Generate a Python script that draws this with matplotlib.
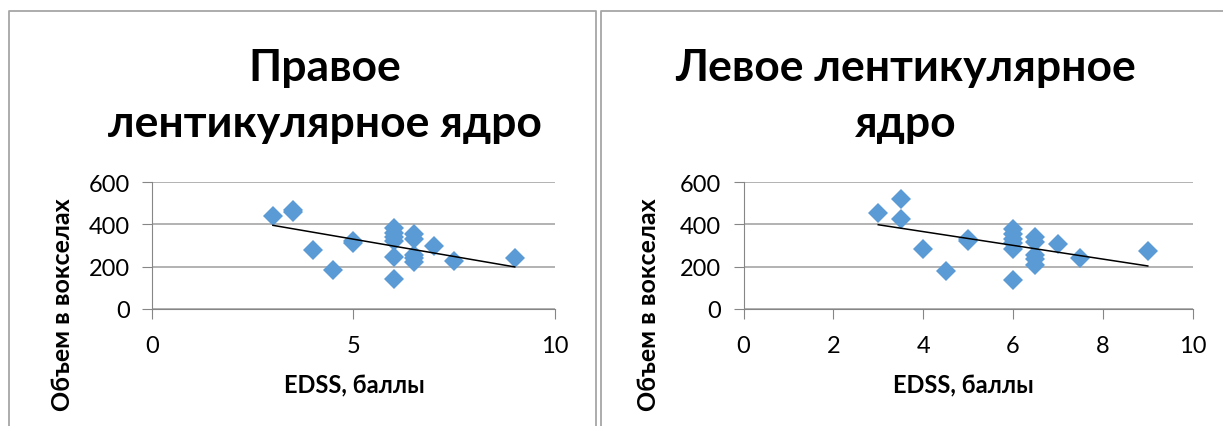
import numpy as np
import matplotlib
matplotlib.use("Agg")
import matplotlib.pyplot as plt
from matplotlib.lines import Line2D

plt.rcParams['font.family'] = ['Lato', 'DejaVu Sans']

# EDSS score vs volume (voxels), right lenticular nucleus
right_edss = [3, 3.5, 3.5, 4, 4.5, 5, 5, 6, 6, 6, 6, 6, 6, 6.5, 6.5, 6.5, 6.5, 6.5, 7, 7.5, 9]
right_vol = [440, 460, 468, 280, 185, 312, 320, 382, 360, 340, 320, 245, 142, 352, 330, 255, 240, 222, 298, 228, 240]

# left lenticular nucleus
left_edss = [3, 3.5, 3.5, 4, 4.5, 5, 5, 6, 6, 6, 6, 6, 6, 6.5, 6.5, 6.5, 6.5, 6.5, 7, 7.5, 9]
left_vol = [455, 522, 425, 283, 178, 322, 332, 378, 356, 332, 310, 285, 138, 340, 318, 255, 235, 210, 307, 240, 272]

titles = ["Правое\nлентикулярное ядро", "Левое лентикулярное\nядро"]
xlabel = "EDSS, баллы"
ylabel = "Объем в вокселах"

W, H = 1223, 427
fig = plt.figure(figsize=(W / 100, H / 100), dpi=100)

def px(x, y):
    return x / W, 1 - y / H

# chart frames
frame = "#a6a6a6"
for x0, x1 in [(9, 596), (601, 1240)]:
    xs = [px(x0, 0)[0], px(x0, 0)[0], px(x1, 0)[0], px(x1, 0)[0]]
    ys = [0, px(0, 12)[1], px(0, 12)[1], 0]
    fig.add_artist(Line2D(xs, ys, color=frame, lw=1.3))

blue = "#5b9bd5"
panels = [
    dict(x=right_edss, y=right_vol, title=titles[0], left=152, right=555,
         ticks=[0, 5, 10], tcx=325, ylx=63, xlx=354),
    dict(x=left_edss, y=left_vol, title=titles[1], left=743.5, right=1192.7,
         ticks=[0, 2, 4, 6, 8, 10], tcx=906, ylx=648, xlx=963),
]

for p in panels:
    l, b = px(p["left"], 310)
    w = (p["right"] - p["left"]) / W
    h = (310 - 183) / H
    ax = fig.add_axes([l, b, w, h])
    ax.plot(p["x"], p["y"], linestyle="none", marker="D", ms=10,
            color=blue, markeredgewidth=0, zorder=3)

    # linear trend line
    k, c = np.polyfit(p["x"], p["y"], 1)
    tx = np.array([min(p["x"]), max(p["x"])])
    ax.plot(tx, k * tx + c, color="black", lw=1.1, zorder=4)

    ax.set_xlim(0, 10)
    ax.set_ylim(0, 600)
    ax.set_xticks(p["ticks"])
    ax.set_yticks([0, 200, 400, 600])
    ax.grid(axis="y", color="#a6a6a6", lw=1.2)
    ax.set_axisbelow(True)
    for s in ["top", "right"]:
        ax.spines[s].set_visible(False)
    ax.spines["left"].set_color("#868686")
    ax.spines["bottom"].set_color("#868686")
    ax.tick_params(axis="both", colors="#868686", length=7, labelsize=17,
                   labelcolor="black")
    ax.tick_params(axis="y", pad=9)
    ax.tick_params(axis="x", pad=12)

    tx_, ty_ = px(p["tcx"], 96)
    fig.text(tx_, ty_, p["title"], ha="center", va="center", fontsize=32,
             fontweight="bold", linespacing=1.5)
    fx, fy = px(p["xlx"], 386)
    fig.text(fx, fy, xlabel, ha="center", va="center", fontsize=17,
             fontweight="bold")
    gx, gy = px(p["ylx"], 305)
    fig.text(gx, gy, ylabel, ha="center", va="center", fontsize=18,
             fontweight="bold", rotation=90)

fig.savefig("out.png", dpi=100)
